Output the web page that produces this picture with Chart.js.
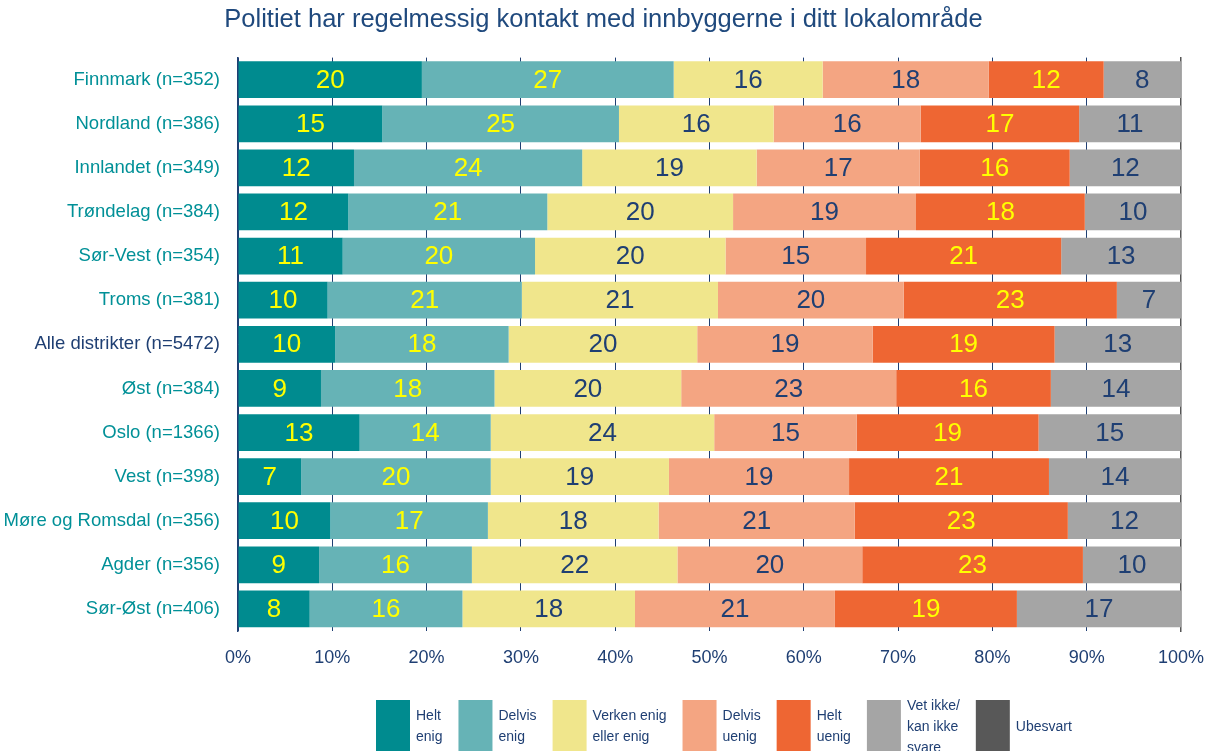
<!DOCTYPE html>
<html><head><meta charset="utf-8">
<script src="https://cdn.jsdelivr.net/npm/chart.js@4"></script>
<style>html,body{margin:0;padding:0;background:#fff;overflow:hidden}#wrap{position:relative;width:1207px;height:751px}</style>
</head><body><div id="wrap"><canvas id="c" width="1207" height="751"></canvas></div>
<script>
const title = 'Politiet har regelmessig kontakt med innbyggerne i ditt lokalområde';
const categories = ['Finnmark (n=352)','Nordland (n=386)','Innlandet (n=349)','Trøndelag (n=384)','Sør-Vest (n=354)','Troms (n=381)','Alle distrikter (n=5472)','Øst (n=384)','Oslo (n=1366)','Vest (n=398)','Møre og Romsdal (n=356)','Agder (n=356)','Sør-Øst (n=406)'];
const heltEnig    = [19.5, 15.3, 12.3, 11.7, 11.1,  9.5, 10.3,  8.8, 12.9,  6.7,  9.8,  8.6,  7.6];
const delvisEnig  = [26.7, 25.1, 24.2, 21.1, 20.4, 20.6, 18.4, 18.4, 13.9, 20.1, 16.7, 16.2, 16.2];
const verken      = [15.8, 16.4, 18.5, 19.7, 20.2, 20.8, 20.0, 19.8, 23.7, 18.9, 18.1, 21.8, 18.3];
const delvisUenig = [17.6, 15.6, 17.3, 19.4, 14.9, 19.7, 18.6, 22.8, 15.1, 19.1, 20.8, 19.6, 21.2];
const heltUenig   = [12.2, 16.8, 15.9, 17.9, 20.7, 22.6, 19.3, 16.4, 19.3, 21.2, 22.6, 23.4, 19.3];
const vetIkke     = [ 8.2, 10.8, 11.8, 10.2, 12.7,  6.8, 13.4, 13.8, 15.1, 14.0, 12.0, 10.4, 17.4];
const ubesvart    = [0, 0, 0, 0, 0, 0, 0, 0, 0, 0, 0, 0, 0];
const seriesNames = [['Helt','enig'],['Delvis','enig'],['Verken enig','eller enig'],['Delvis','uenig'],['Helt','uenig'],['Vet ikke/','kan ikke','svare'],['Ubesvart']];
const xTicks = [0,10,20,30,40,50,60,70,80,90,100];

const colors = ['#008B8F','#66B3B6','#F0E68C','#F4A582','#EE6633','#A5A5A5','#585858'];
const labelColors = ['#FFFF00','#FFFF00','#1F3F73','#1F3F73','#FFFF00','#1F3F73','#FFFFFF'];
const NAVY = '#1F3F73';
const TEAL = '#009097';
const FONT = '"Liberation Sans",Arial,sans-serif';

const seriesData = [heltEnig, delvisEnig, verken, delvisUenig, heltUenig, vetIkke, ubesvart];

const valueLabels = {
  id: 'valueLabels',
  afterDatasetsDraw(chart) {
    const ctx = chart.ctx;
    ctx.save();
    ctx.font = '26px ' + FONT;
    ctx.textAlign = 'center';
    ctx.textBaseline = 'middle';
    chart.data.datasets.forEach((ds, i) => {
      const meta = chart.getDatasetMeta(i);
      meta.data.forEach((bar, j) => {
        const v = ds.data[j];
        if (!v) return;
        ctx.fillStyle = labelColors[i];
        ctx.fillText(String(Math.round(v)), (bar.x + bar.base) / 2, bar.y + 1);
      });
    });
    ctx.restore();
  }
};

const customLegend = {
  id: 'customLegend',
  afterDraw(chart) {
    const ctx = chart.ctx;
    ctx.save();
    ctx.font = '14px ' + FONT;
    const boxW = 34, boxH = 54, gapText = 6, gapItem = 16, lineH = 21, cy = 727;
    const widths = seriesNames.map(lines => Math.max(...lines.map(l => ctx.measureText(l).width)));
    let x = 376;
    ctx.textBaseline = 'middle';
    ctx.textAlign = 'left';
    seriesNames.forEach((lines, i) => {
      ctx.fillStyle = colors[i];
      ctx.fillRect(x, cy - boxH / 2, boxW, boxH);
      ctx.fillStyle = NAVY;
      const y0 = cy - (lines.length - 1) * lineH / 2;
      lines.forEach((l, k) => ctx.fillText(l, x + boxW + gapText, y0 + k * lineH));
      x += boxW + gapText + widths[i] + gapItem;
    });
    ctx.restore();
  }
};

new Chart(document.getElementById('c'), {
  type: 'bar',
  data: {
    labels: categories,
    datasets: seriesData.map((d, i) => ({
      label: seriesNames[i].join(' '),
      data: d,
      backgroundColor: colors[i],
      borderWidth: 0,
      barPercentage: 1,
      categoryPercentage: 0.833
    }))
  },
  options: {
    indexAxis: 'y',
    responsive: false,
    animation: false,
    devicePixelRatio: 1,
    layout: { padding: { top: 0, right: 0, bottom: 70, left: 0 } },
    plugins: {
      legend: { display: false },
      tooltip: { enabled: false },
      title: {
        display: true,
        text: title,
        color: '#1F497D',
        font: { family: FONT, size: 25.5, weight: 'normal' },
        padding: { top: 5, bottom: 22 }
      }
    },
    scales: {
      x: {
        stacked: true,
        min: 0, max: 100,
        afterBuildTicks(scale) { scale.ticks = xTicks.map(v => ({ value: v })); },
        afterFit(scale) { scale.height = 50; },
        ticks: { callback: v => v + '%', color: NAVY, font: { family: FONT, size: 18 }, padding: 3, maxRotation: 0 },
        grid: { color: NAVY, lineWidth: 1, drawTicks: true, tickLength: 13, tickColor: 'rgba(0,0,0,0)' },
        border: { display: false }
      },
      y: {
        stacked: true,
        afterFit(scale) { scale.width = 238; },
        ticks: {
          color: c => (c.index === 6 ? NAVY : TEAL),
          font: { family: FONT, size: 18.5 },
          padding: 10,
          autoSkip: false
        },
        grid: { display: false },
        border: { display: true, color: NAVY, width: 1.5 }
      },
      y2: {
        type: 'category',
        labels: categories,
        position: 'right',
        afterFit(scale) { scale.width = 0; },
        ticks: { display: false },
        grid: { display: false },
        border: { display: true, color: '#555555', width: 1.5 }
      }
    }
  },
  plugins: [valueLabels, customLegend]
});
</script></body></html>
